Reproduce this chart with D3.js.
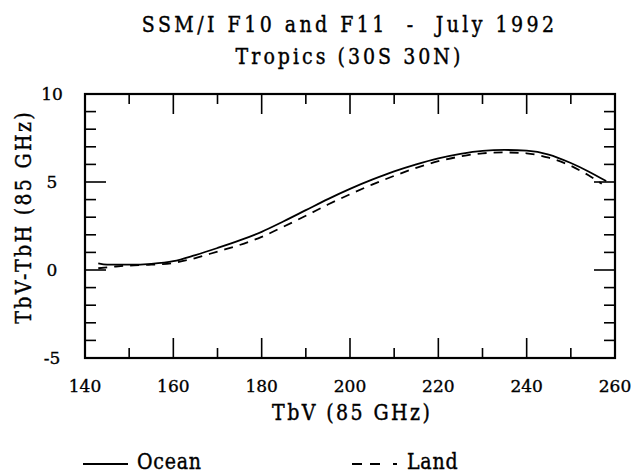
<!DOCTYPE html>
<html><head><meta charset="utf-8">
<script src="https://cdn.jsdelivr.net/npm/d3@7"></script>
<style>body{margin:0;background:#fff}</style>
</head><body>
<svg id="c" width="635" height="475"></svg>
<script>
const titleLines = ["SSM/I F10 and F11  -  July 1992", "Tropics (30S 30N)"];
const xLabel = "TbV (85 GHz)";
const yLabel = "TbV-TbH (85 GHz)";
const xTickLabels = [140,160,180,200,220,240,260];
const yTickLabels = [-5,0,5,10];
const seriesNames = ["Ocean","Land"];
const oceanTbV = [143,145,150,155,160,165,170,175,180,185,190,195,200,205,210,215,220,225,230,235,240,245,250,254,258];
const oceanDiff = [0.38,0.31,0.3,0.35,0.5,0.85,1.25,1.68,2.17,2.77,3.4,4.03,4.61,5.13,5.6,6.0,6.34,6.6,6.77,6.82,6.78,6.56,6.08,5.6,5.05];
const landTbV = [143,147,150,155,160,165,170,175,180,185,190,195,200,205,210,215,220,225,230,235,240,245,250,254,257];
const landDiff = [0.1,0.2,0.25,0.3,0.4,0.68,1.05,1.42,1.88,2.47,3.08,3.72,4.3,4.85,5.35,5.8,6.18,6.45,6.63,6.68,6.63,6.38,5.92,5.38,4.9];

const svg = d3.select("#c");
const serif = "'DejaVu Serif', serif";
const x = d3.scaleLinear().domain([140,260]).range([85,615]);
const y = d3.scaleLinear().domain([-5,10]).range([358,94]);

const tSize = 19, vs = 1.22, adv = 13.4;
function monoText(sel, str, tx, ty, anchor, rot) {
  return sel.append("text").text(str)
    .attr("transform",`translate(${tx},${ty})${rot?` rotate(${rot})`:""} scale(1,${vs})`)
    .attr("text-anchor",anchor).attr("font-family",serif)
    .attr("font-size",tSize).attr("fill","#000")
    .attr("stroke","#000").attr("stroke-width",0.35)
    .attr("textLength",str.length*adv - 3).attr("lengthAdjust","spacing")
    .attr("xml:space","preserve").style("white-space","pre");
}

// title
titleLines.forEach((t,i)=> monoText(svg, t, 348, [32,64][i], "middle"));

// frame
svg.append("rect").attr("x",x(140)).attr("y",y(10)).attr("width",x(260)-x(140)).attr("height",y(-5)-y(10))
  .attr("fill","none").attr("stroke","#000").attr("stroke-width",2.2);

const g = svg.append("g").attr("stroke","#000").attr("stroke-width",1.6);
d3.range(150,260,10).forEach(v=>{
  const L = v%20===0 ? 20 : 10;
  g.append("line").attr("x1",x(v)).attr("x2",x(v)).attr("y1",y(-5)).attr("y2",y(-5)-L);
  g.append("line").attr("x1",x(v)).attr("x2",x(v)).attr("y1",y(10)).attr("y2",y(10)+L);
});
d3.range(-4,10,1).forEach(v=>{
  const L = v%5===0 ? 21 : 11;
  g.append("line").attr("y1",y(v)).attr("y2",y(v)).attr("x1",x(140)).attr("x2",x(140)+L);
  g.append("line").attr("y1",y(v)).attr("y2",y(v)).attr("x1",x(260)).attr("x2",x(260)-L);
});

// tick labels
xTickLabels.forEach(v=>{
  svg.append("text").text(v).attr("x",x(v)).attr("y",392).attr("text-anchor","middle")
    .attr("font-family",serif).attr("font-size",17).attr("fill","#000").attr("stroke","#000").attr("stroke-width",0.35);
});
yTickLabels.forEach(v=>{
  svg.append("text").text(v<0?"-"+(-v):v).attr("x",52).attr("y",y(v)+6).attr("text-anchor","middle")
    .attr("font-family",serif).attr("font-size",17).attr("fill","#000").attr("stroke","#000").attr("stroke-width",0.35);
});

// axis labels
monoText(svg, xLabel, 351, 420, "middle");
monoText(svg, yLabel, 31, 218, "middle", -90);

// curves
const line = d3.line().curve(d3.curveMonotoneX).x(d=>x(d[0])).y(d=>y(d[1]));
svg.append("path").datum(oceanTbV.map((v,i)=>[v,oceanDiff[i]])).attr("d",line)
  .attr("fill","none").attr("stroke","#000").attr("stroke-width",1.8);
svg.append("path").datum(landTbV.map((v,i)=>[v,landDiff[i]])).attr("d",line)
  .attr("fill","none").attr("stroke","#000").attr("stroke-width",1.8).attr("stroke-dasharray","9,7");

// legend
svg.append("line").attr("x1",83).attr("x2",128).attr("y1",464).attr("y2",464).attr("stroke","#000").attr("stroke-width",1.8);
monoText(svg, seriesNames[0], 137, 469, "start");
svg.append("line").attr("x1",352).attr("x2",397).attr("y1",464).attr("y2",464).attr("stroke","#000").attr("stroke-width",1.8).attr("stroke-dasharray","10,8,10,13,4");
monoText(svg, seriesNames[1], 407, 469, "start");
</script>
</body></html>
